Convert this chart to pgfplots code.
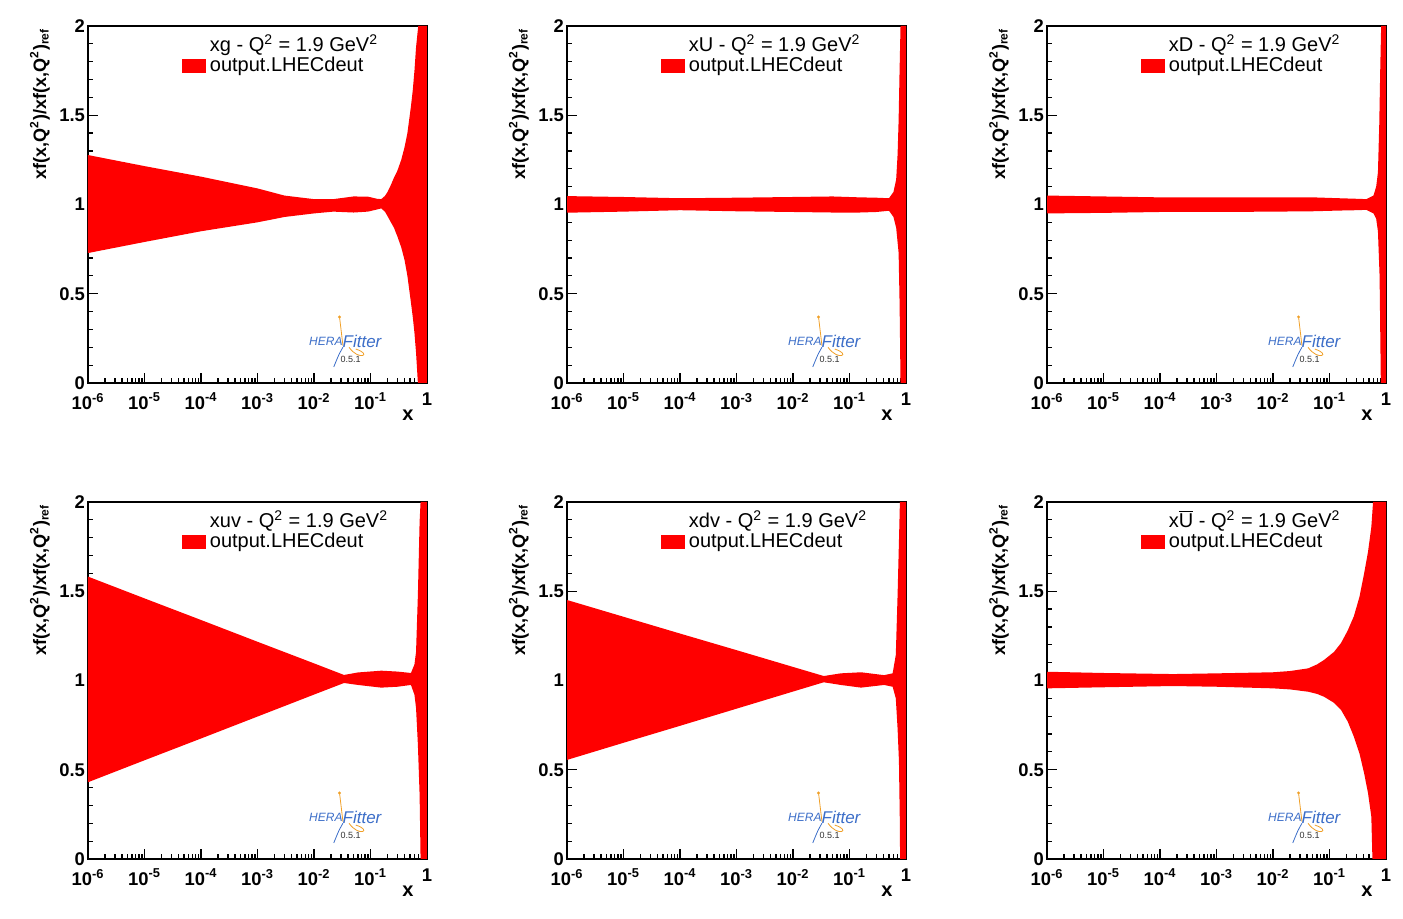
\documentclass[border=0pt]{standalone}
\usepackage{fontspec}
\setmainfont{Liberation Sans}
\usepackage{pgfplots}
\pgfplotsset{compat=1.18}
\definecolor{hfred}{RGB}{255,0,0}
\definecolor{logoblue}{RGB}{60,110,200}
\definecolor{logoorange}{RGB}{240,160,40}

\pgfplotsset{
 every axis/.append style={
  axis line style={line width=0.9pt},
  tick align=inside, tick pos=left,
  major tick length=5pt, minor tick length=2.6pt,
  tick style={black, line width=0.6pt},
  xtick={1e-6,1e-5,1e-4,1e-3,1e-2,1e-1,1},
  xticklabels={10\textsuperscript{-6},10\textsuperscript{-5},10\textsuperscript{-4},10\textsuperscript{-3},10\textsuperscript{-2},10\textsuperscript{-1},1},
  minor xtick={2e-6,3e-6,4e-6,5e-6,6e-6,7e-6,8e-6,9e-6,
               2e-5,3e-5,4e-5,5e-5,6e-5,7e-5,8e-5,9e-5,
               2e-4,3e-4,4e-4,5e-4,6e-4,7e-4,8e-4,9e-4,
               2e-3,3e-3,4e-3,5e-3,6e-3,7e-3,8e-3,9e-3,
               2e-2,3e-2,4e-2,5e-2,6e-2,7e-2,8e-2,9e-2,
               0.2,0.3,0.4,0.5,0.6,0.7,0.8,0.9},
  ytick={0,0.5,1,1.5,2}, yticklabels={0,0.5,1,1.5,2},
  minor ytick={0.1,0.2,0.3,0.4,0.6,0.7,0.8,0.9,1.1,1.2,1.3,1.4,1.6,1.7,1.8,1.9},
  ticklabel style={font=\bfseries\fontsize{9.2}{10}\selectfont},
  yticklabel style={xshift=2pt},
  xticklabel style={yshift=-1.5pt},
  ylabel={xf(x,Q\textsuperscript{2})/xf(x,Q\textsuperscript{2})\textsubscript{ref}},
  ylabel style={at={(axis description cs:-0.1416,1)}, rotate=0, anchor=east, inner sep=1pt, font=\bfseries\fontsize{9}{10}\selectfont},
  xlabel={x},
  xlabel style={at={(axis description cs:0.944,0)}, anchor=north, yshift=-10pt, font=\bfseries\fontsize{10}{10}\selectfont},
  legend style={draw=none, fill=none, at={(axis description cs:0.277,0.968)}, anchor=north west,
     inner sep=0pt, outer sep=0pt, column sep=2pt, row sep=1pt,
     font=\fontsize{10}{11}\selectfont,
     nodes={inner sep=0pt, text height=7.1pt, text depth=1.9pt}},
  legend cell align=left,
 },
}

\newcommand{\hflogo}{%
  \draw[logoorange, line width=0.4pt] (rel axis cs:0.742,0.185) -- (rel axis cs:0.752,0.105);
  \fill[logoorange] (rel axis cs:0.742,0.185) circle (0.8pt);
  \draw[logoblue, line width=0.4pt] (rel axis cs:0.725,0.045) .. controls (rel axis cs:0.74,0.08) .. (rel axis cs:0.752,0.10);
  \draw[logoorange, line width=0.4pt] (rel axis cs:0.77,0.10) .. controls (rel axis cs:0.80,0.06) and (rel axis cs:0.84,0.08) .. (rel axis cs:0.79,0.095);
  \node[font=\fontsize{6}{6}\selectfont\itshape, text=logoblue, anchor=base east, inner sep=0pt] at (rel axis cs:0.752,0.105) {HERA};
  \node[font=\fontsize{8.5}{9}\selectfont\itshape, text=logoblue, anchor=base west, inner sep=0pt] at (rel axis cs:0.750,0.100) {Fitter};
  \node[font=\fontsize{4.5}{5}\selectfont, text=black!80, anchor=north, inner sep=0pt] at (rel axis cs:0.775,0.075) {0.5.1};
}

\begin{document}
\begin{tikzpicture}
\path (0,0) rectangle (701.5pt,459.5pt);

% ---------- xg ----------
\begin{axis}[scale only axis, width=169.5pt, height=178.5pt, xmode=log, xmin=1e-6, xmax=1, ymin=0, ymax=2,
  at={(44pt,268pt)}, anchor=south west]
\addlegendimage{empty legend}\addlegendentry{xg - Q\textsuperscript{2} = 1.9 GeV\textsuperscript{2}}
\addplot[fill=hfred, draw=none, legend image code/.code={\fill[hfred] (0pt,-3.5pt) rectangle (12pt,3.5pt);}] coordinates {
 (1e-6,1.277) (1e-5,1.215) (1e-4,1.156) (1e-3,1.09) (3e-3,1.05) (1e-2,1.03) (2.2e-2,1.03) (5e-2,1.045) (9e-2,1.044)
 (0.13,1.032) (0.155,1.03) (0.18,1.048) (0.2,1.07) (0.23,1.11) (0.26,1.15) (0.3,1.19) (0.35,1.25) (0.4,1.32) (0.45,1.40)
 (0.52,1.55) (0.56,1.64) (0.6,1.75) (0.64,1.88) (0.70,2.0) (1,2)
 (1,0) (0.69,0) (0.64,0.17) (0.6,0.28) (0.56,0.37) (0.52,0.45) (0.45,0.60) (0.4,0.69) (0.35,0.76) (0.3,0.82) (0.26,0.87)
 (0.23,0.90) (0.2,0.935) (0.18,0.96) (0.155,0.978) (0.13,0.972)
 (9e-2,0.96) (5e-2,0.955) (2.2e-2,0.96) (1e-2,0.95) (3e-3,0.93) (1e-3,0.90) (1e-4,0.85) (1e-5,0.79) (1e-6,0.728)
};
\addlegendentry{output.LHECdeut}
\hflogo
\end{axis}

% ---------- xU ----------
\begin{axis}[scale only axis, width=169.5pt, height=178.5pt, xmode=log, xmin=1e-6, xmax=1, ymin=0, ymax=2,
  at={(283.5pt,268pt)}, anchor=south west]
\addlegendimage{empty legend}\addlegendentry{xU - Q\textsuperscript{2} = 1.9 GeV\textsuperscript{2}}
\addplot[fill=hfred, draw=none, legend image code/.code={\fill[hfred] (0pt,-3.5pt) rectangle (12pt,3.5pt);}] coordinates {
 (1e-6,1.047) (1e-5,1.042) (1e-4,1.035) (1e-3,1.038) (1e-2,1.042) (5e-2,1.045) (0.15,1.04) (0.3,1.038) (0.5,1.035)
 (0.6,1.07) (0.67,1.14) (0.71,1.28) (0.74,1.47) (0.77,1.75) (0.80,2) (1,2)
 (1,0) (0.80,0) (0.78,0.3) (0.77,0.45) (0.74,0.73) (0.67,0.87) (0.6,0.93) (0.5,0.965) (0.3,0.958) (0.15,0.955)
 (5e-2,0.955) (1e-2,0.958) (1e-3,0.962) (1e-4,0.968) (1e-5,0.96) (1e-6,0.954)
};
\addlegendentry{output.LHECdeut}
\hflogo
\end{axis}

% ---------- xD ----------
\begin{axis}[scale only axis, width=169.5pt, height=178.5pt, xmode=log, xmin=1e-6, xmax=1, ymin=0, ymax=2,
  at={(523.5pt,268pt)}, anchor=south west]
\addlegendimage{empty legend}\addlegendentry{xD - Q\textsuperscript{2} = 1.9 GeV\textsuperscript{2}}
\addplot[fill=hfred, draw=none, legend image code/.code={\fill[hfred] (0pt,-3.5pt) rectangle (12pt,3.5pt);}] coordinates {
 (1e-6,1.05) (1e-5,1.045) (1e-4,1.04) (1e-3,1.04) (1e-2,1.04) (5e-2,1.04) (0.15,1.035) (0.3,1.032) (0.45,1.03)
 (0.6,1.05) (0.67,1.10) (0.72,1.18) (0.76,1.45) (0.79,1.75) (0.82,2) (1,2)
 (1,0) (0.81,0) (0.79,0.3) (0.77,0.6) (0.72,0.85) (0.67,0.92) (0.6,0.95) (0.45,0.97) (0.3,0.968) (0.15,0.966)
 (5e-2,0.962) (1e-2,0.96) (1e-3,0.958) (1e-4,0.958) (1e-5,0.953) (1e-6,0.95)
};
\addlegendentry{output.LHECdeut}
\hflogo
\end{axis}

% ---------- xuv ----------
\begin{axis}[scale only axis, width=169.5pt, height=178.5pt, xmode=log, xmin=1e-6, xmax=1, ymin=0, ymax=2,
  at={(44pt,30pt)}, anchor=south west]
\addlegendimage{empty legend}\addlegendentry{xuv - Q\textsuperscript{2} = 1.9 GeV\textsuperscript{2}}
\addplot[fill=hfred, draw=none, legend image code/.code={\fill[hfred] (0pt,-3.5pt) rectangle (12pt,3.5pt);}] coordinates {
 (1e-6,1.582) (1e-5,1.46) (1e-4,1.339) (1e-3,1.217) (1e-2,1.096) (3.4e-2,1.031) (6e-2,1.045) (0.155,1.055) (0.3,1.05)
 (0.52,1.042) (0.6,1.09) (0.64,1.16) (0.69,1.48) (0.74,1.89) (0.77,2) (1,2)
 (1,0) (0.77,0) (0.74,0.36) (0.69,0.64) (0.64,0.846) (0.6,0.92) (0.52,0.975) (0.3,0.965) (0.155,0.96) (6e-2,0.975)
 (3.4e-2,0.986) (1e-2,0.921) (1e-3,0.798) (1e-4,0.675) (1e-5,0.553) (1e-6,0.43)
};
\addlegendentry{output.LHECdeut}
\hflogo
\end{axis}

% ---------- xdv ----------
\begin{axis}[scale only axis, width=169.5pt, height=178.5pt, xmode=log, xmin=1e-6, xmax=1, ymin=0, ymax=2,
  at={(283.5pt,30pt)}, anchor=south west]
\addlegendimage{empty legend}\addlegendentry{xdv - Q\textsuperscript{2} = 1.9 GeV\textsuperscript{2}}
\addplot[fill=hfred, draw=none, legend image code/.code={\fill[hfred] (0pt,-3.5pt) rectangle (12pt,3.5pt);}] coordinates {
 (1e-6,1.451) (1e-5,1.357) (1e-4,1.263) (1e-3,1.17) (1e-2,1.076) (3.5e-2,1.025) (7e-2,1.04) (0.16,1.046) (0.41,1.03)
 (0.58,1.04) (0.66,1.143) (0.71,1.48) (0.76,1.85) (0.78,2) (1,2)
 (1,0) (0.785,0) (0.78,0.18) (0.75,0.55) (0.71,0.73) (0.66,0.90) (0.58,0.965) (0.41,0.975) (0.16,0.96) (7e-2,0.975)
 (3.5e-2,0.99) (1e-2,0.938) (1e-3,0.842) (1e-4,0.746) (1e-5,0.651) (1e-6,0.555)
};
\addlegendentry{output.LHECdeut}
\hflogo
\end{axis}

% ---------- xUbar ----------
\begin{axis}[scale only axis, width=169.5pt, height=178.5pt, xmode=log, xmin=1e-6, xmax=1, ymin=0, ymax=2,
  at={(523.5pt,30pt)}, anchor=south west]
\addlegendimage{empty legend}\addlegendentry{x$\overline{\mbox{U}}$ - Q\textsuperscript{2} = 1.9 GeV\textsuperscript{2}}
\addplot[fill=hfred, draw=none, legend image code/.code={\fill[hfred] (0pt,-3.5pt) rectangle (12pt,3.5pt);}] coordinates {
 (1e-6,1.049) (1e-5,1.042) (1.7e-4,1.036) (1e-3,1.04) (1e-2,1.046) (2e-2,1.053) (4.2e-2,1.068) (6e-2,1.09) (8e-2,1.115)
 (0.12,1.16) (0.16,1.21) (0.21,1.28) (0.27,1.36) (0.34,1.47) (0.41,1.6) (0.48,1.72) (0.55,1.86) (0.59,2) (1,2)
 (1,0) (0.575,0) (0.55,0.237) (0.48,0.37) (0.41,0.48) (0.34,0.59) (0.27,0.685) (0.21,0.77) (0.16,0.835) (0.12,0.875)
 (8e-2,0.909) (6e-2,0.925) (4.2e-2,0.937) (2e-2,0.95) (1e-2,0.956)
 (1e-3,0.965) (1.7e-4,0.969) (1e-5,0.962) (1e-6,0.956)
};
\addlegendentry{output.LHECdeut}
\hflogo
\end{axis}
\end{tikzpicture}
\end{document}
